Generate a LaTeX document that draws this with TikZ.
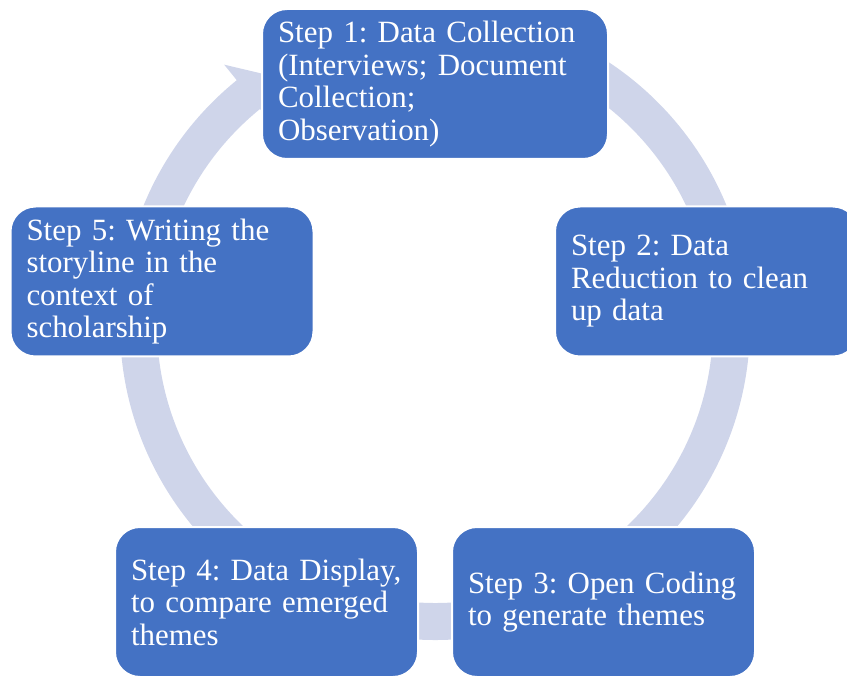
\documentclass[tikz,border=0pt]{standalone}
\usepackage{fontspec}
\setmainfont{Liberation Serif}
\usepackage{tikz}

\definecolor{stepblue}{HTML}{4472C4}
\definecolor{ringblue}{HTML}{CFD5EA}

\newcommand{\stepfont}{\fontsize{23.2}{24.4}\selectfont\frenchspacing\hyphenpenalty=10000\relax}

\tikzset{
  stepbox/.style={rectangle, rounded corners=18.75pt, fill=stepblue, draw=white,
    line width=1.5pt, text=white, align=left, inner xsep=6pt, inner ysep=0pt,
    minimum height=112.5pt, text width=215.25pt, font=\stepfont,
    execute at begin node={\leftskip=6pt}},
  ring/.style={ringblue, line width=27.75pt}
}

\begin{document}
\begin{tikzpicture}[x=0.75pt, y=0.75pt]
  \useasboundingbox (0,0) rectangle (847,-677);

  % circular arrow behind the steps
  \begin{scope}[shift={(435,-325)}]
    \draw[ring] (85:296.5) arc [start angle=85, end angle=-231.5, radius=296.5];
    % head, only its outer wing shows
    \fill[ringblue] (129:335) -- (123:296.5) -- (129:258) -- cycle;
  \end{scope}

  % steps, clockwise from the top
  \node[stepbox, text width=247.5pt] (step1) at (435,-84)
    {Step 1: Data Collection\\(Interviews; Document\\Collection;\\Observation)};
  \node[stepbox] (step2) at (706.5,-281.5)
    {Step 2: Data\\Reduction to clean\\up data};
  \node[stepbox] (step3) at (603.5,-602)
    {Step 3: Open Coding\\to generate themes};
  \node[stepbox] (step4) at (266.5,-602)
    {Step 4: Data Display,\\to compare emerged\\themes};
  \node[stepbox] (step5) at (162,-281.5)
    {Step 5: Writing the\\storyline in the\\context of\\scholarship};
\end{tikzpicture}
\end{document}
